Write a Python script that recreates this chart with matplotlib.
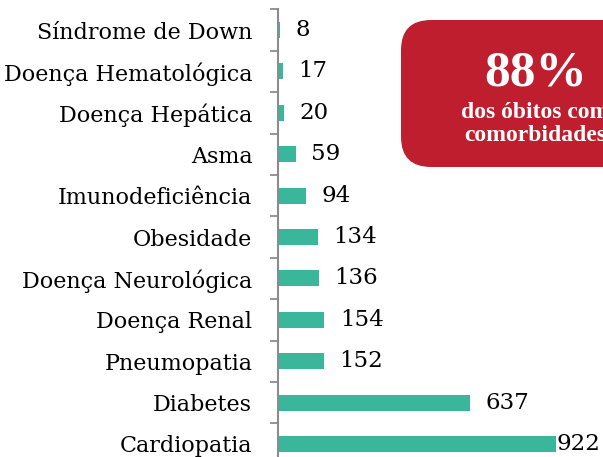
import numpy as np
import matplotlib.pyplot as plt
from matplotlib.patches import FancyBboxPatch
from matplotlib.ticker import FixedLocator

categories = ["Síndrome de Down", "Doença Hematológica", "Doença Hepática", "Asma",
              "Imunodeficiência", "Obesidade", "Doença Neurológica", "Doença Renal",
              "Pneumopatia", "Diabetes", "Cardiopatia"]
deaths = [8, 17, 20, 59, 94, 134, 136, 154, 152, 637, 922]
highlight_pct = "88%"
highlight_lines = ["dos óbitos com", "comorbidades"]

bar_color = "#3AB69B"
box_color = "#BE1E2E"
W, H = 603, 457

fig = plt.figure(figsize=(W / 100, H / 100), dpi=100)
# axes placed in pixel terms: axis line at x=278, category pitch ~41.4 px
ax = fig.add_axes([278 / W, 1 - 464.7 / H, (W - 278) / W, 455.4 / H])

y = np.arange(len(categories))
ax.barh(y, deaths, height=0.39, color=bar_color)
ax.set_ylim(len(categories) - 0.5, -0.5)
ax.set_xlim(0, (W - 278) / 0.3015)

ax.set_yticks(y)
ax.set_yticklabels(categories, fontfamily="DejaVu Serif", fontsize=16)
ax.tick_params(axis="y", which="major", length=0, pad=18.5)
ax.yaxis.set_minor_locator(FixedLocator(np.arange(-0.5, len(categories), 1)))
ax.tick_params(axis="y", which="minor", length=5.5, width=1.3, color="#8c8c8c")
ax.set_xticks([])

for s in ["top", "right", "bottom"]:
    ax.spines[s].set_visible(False)
ax.spines["left"].set_color("#8c8c8c")
ax.spines["left"].set_linewidth(1.5)

vmax = max(deaths)
for yi, v in zip(y, deaths):
    off = 0.5 if v == vmax else 11
    ax.annotate(str(v), (v, yi), xytext=(off, 0), textcoords="offset points",
                va="center", ha="left", fontfamily="DejaVu Serif", fontsize=16.5)

# red highlight box, partly cut at the right edge
box = FancyBboxPatch((401 / W, 1 - 167 / H), 260 / W, 147 / H,
                     boxstyle="round,pad=0,rounding_size=0.05",
                     transform=fig.transFigure, facecolor=box_color,
                     edgecolor="none", mutation_aspect=W / H)
fig.patches.append(box)
fig.text(536 / W, 1 - 85 / H, highlight_pct, color="white", fontsize=37,
         fontweight="bold", fontfamily="Liberation Serif", ha="center", va="baseline")
for i, line in enumerate(highlight_lines):
    fig.text(535 / W, 1 - (118 + 23 * i) / H, line, color="white", fontsize=17,
             fontweight="bold", fontfamily="Liberation Serif", ha="center",
             va="baseline")

fig.savefig("out.png", dpi=100)
